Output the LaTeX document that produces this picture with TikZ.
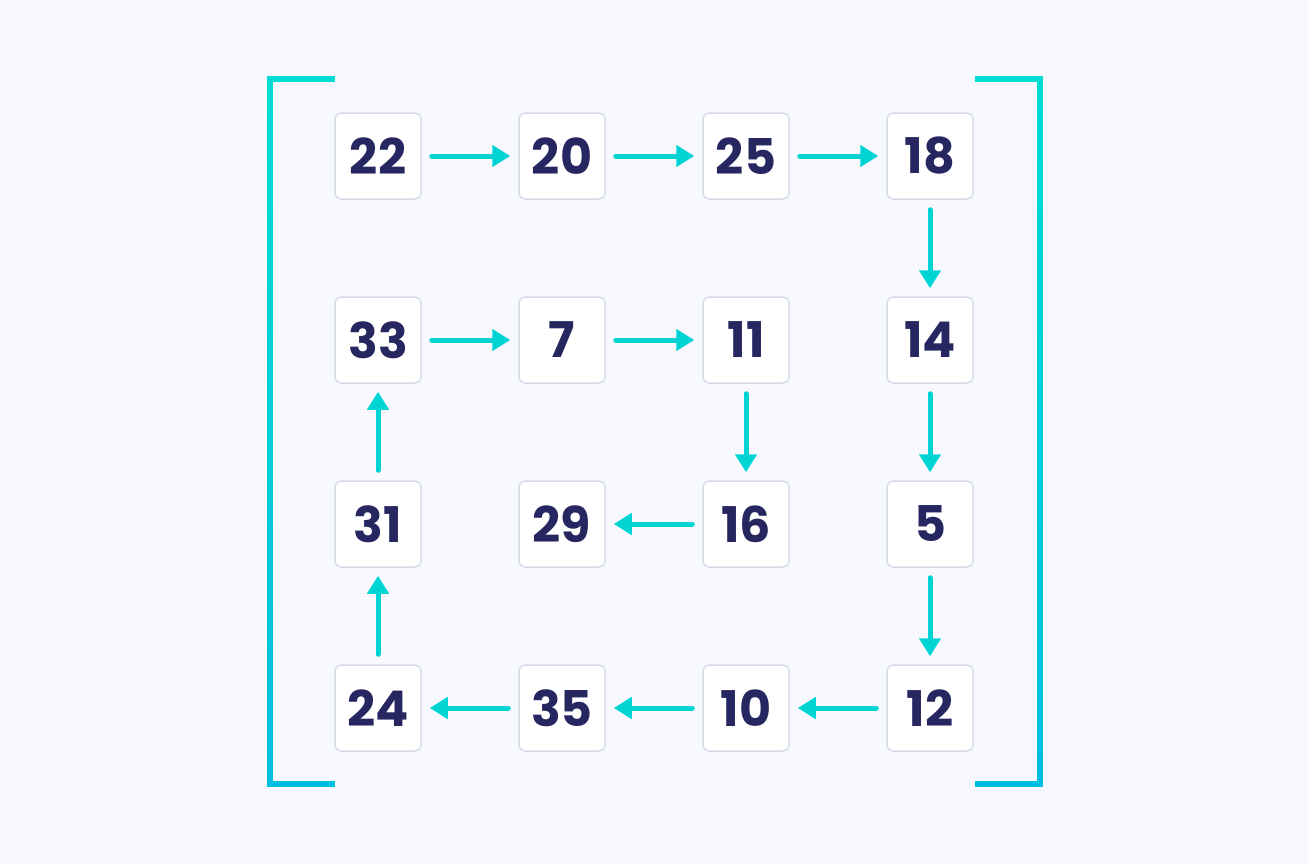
\documentclass[tikz,border=0pt]{standalone}
\usepackage{fontspec}
\setmainfont{Poppins}
\usepackage{tikz}
\usetikzlibrary{arrows.meta,positioning}

\definecolor{bgcol}{HTML}{F7F9FE}
\definecolor{boxline}{HTML}{D5DCE6}
\definecolor{numcol}{HTML}{262660}
\definecolor{arrcol}{HTML}{00D5D3}
\definecolor{brtop}{HTML}{00DCD4}
\definecolor{brbot}{HTML}{00BFE0}

\tikzset{
    cell/.style={draw=boxline, fill=white, line width=0.85pt, rounded corners=3.2pt,
        minimum size=1.72cm, inner sep=0pt, text=numcol,
        font=\fontsize{28}{30}\selectfont\bfseries},
    flow/.style={-{Triangle[length=0.36cm,width=0.42cm]}, line width=0.1cm, arrcol,
        line cap=round, shorten <=0.2cm, shorten >=0.16cm}
}

\begin{document}
\begin{tikzpicture}
    % Canvas
    \fill[bgcol] (0,0) rectangle (26.16,-17.28);
    \useasboundingbox (0,0) rectangle (26.16,-17.28);

    % Matrix brackets
    \shade[top color=brtop, bottom color=brbot] (5.345,-1.525) rectangle (5.455,-15.735);
    \fill[brtop] (5.345,-1.525) rectangle (6.7,-1.635);
    \fill[brbot] (5.345,-15.625) rectangle (6.7,-15.735);
    \shade[top color=brtop, bottom color=brbot] (20.745,-1.525) rectangle (20.855,-15.735);
    \fill[brtop] (19.5,-1.525) rectangle (20.855,-1.635);
    \fill[brbot] (19.5,-15.625) rectangle (20.855,-15.735);

    % Cells (value/column/row)
    \foreach \v/\c/\r in {22/0/0, 20/1/0, 25/2/0, 18/3/0,
                          33/0/1, 7/1/1, 11/2/1, 14/3/1,
                          31/0/2, 29/1/2, 16/2/2, 5/3/2,
                          24/0/3, 35/1/3, 10/2/3, 12/3/3}
        \node[cell] (n\v) at (7.56+3.68*\c, -3.12-3.68*\r) {\v};

    % Spiral order
    \foreach \a/\b in {22/20, 20/25, 25/18, 18/14, 14/5, 5/12, 12/10, 10/35,
                       35/24, 24/31, 31/33, 33/7, 7/11, 11/16, 16/29}
        \draw[flow] (n\a) -- (n\b);

\end{tikzpicture}
\end{document}
